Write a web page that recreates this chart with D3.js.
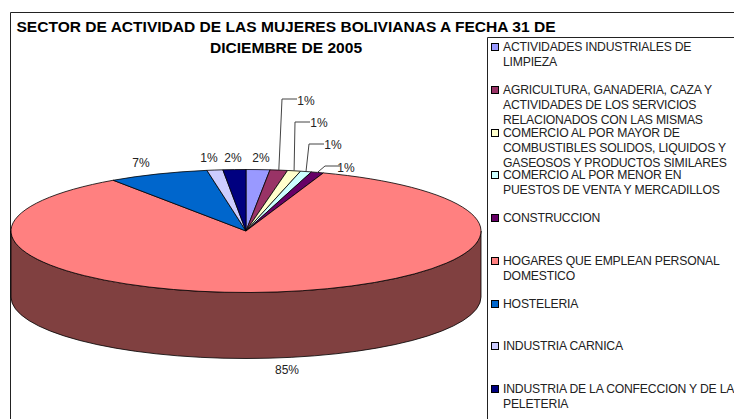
<!DOCTYPE html>
<html>
<head>
<meta charset="utf-8">
<script src="https://cdnjs.cloudflare.com/ajax/libs/d3/7.8.5/d3.min.js"></script>
<style>
    html, body { margin: 0; padding: 0; background: #fff; overflow: hidden; }
    text { font-family: "Liberation Sans", Arial, sans-serif; }
</style>
</head>
<body>
<div id="chart"></div>
<script>
// values
const sectors = [
    "ACTIVIDADES INDUSTRIALES DE LIMPIEZA",
    "AGRICULTURA, GANADERIA, CAZA Y ACTIVIDADES DE LOS SERVICIOS RELACIONADOS CON LAS MISMAS",
    "COMERCIO AL POR MAYOR DE COMBUSTIBLES SOLIDOS, LIQUIDOS Y GASEOSOS Y PRODUCTOS SIMILARES",
    "COMERCIO AL POR MENOR EN PUESTOS DE VENTA Y MERCADILLOS",
    "CONSTRUCCION",
    "HOGARES QUE EMPLEAN PERSONAL DOMESTICO",
    "HOSTELERIA",
    "INDUSTRIA CARNICA",
    "INDUSTRIA DE LA CONFECCION Y DE LA PELETERIA"
];
const shares = [1.63, 1.2, 0.9, 0.76, 0.85, 85.1, 6.9, 1.09, 1.57];
const shareLabels = ["2%", "1%", "1%", "1%", "1%", "85%", "7%", "1%", "2%"];
const sectorColors = ["#9999ff", "#993366", "#ffffcc", "#ccffff", "#660066", "#ff8080", "#0066cc", "#ccccff", "#000080"];
const legendLines = [
    ["ACTIVIDADES INDUSTRIALES DE", "LIMPIEZA"],
    ["AGRICULTURA, GANADERIA, CAZA Y", "ACTIVIDADES DE LOS SERVICIOS", "RELACIONADOS CON LAS MISMAS"],
    ["COMERCIO AL POR MAYOR DE", "COMBUSTIBLES SOLIDOS, LIQUIDOS Y", "GASEOSOS Y PRODUCTOS SIMILARES"],
    ["COMERCIO AL POR MENOR EN", "PUESTOS DE VENTA Y MERCADILLOS"],
    ["CONSTRUCCION"],
    ["HOGARES QUE EMPLEAN PERSONAL", "DOMESTICO"],
    ["HOSTELERIA"],
    ["INDUSTRIA CARNICA"],
    ["INDUSTRIA DE LA CONFECCION Y DE LA", "PELETERIA"]
];

// layout
const width = 734, height = 419;
const cx = 246, cy = 231, rx = 235, ry = 61.5, depth = 66;
const legendTop = [47, 90, 133, 175, 218, 261, 304, 346, 389];
const labelPos = [[261, 158], [306, 101], [319, 123], [333, 145], [346, 168], [287, 370], [141, 163], [209, 158], [233, 158]];
const elbows = [null, [282, 99], [295, 122], [309, 144], [325, 166], null, null, null, null];

const svg = d3.select("#chart").append("svg")
    .attr("width", width)
    .attr("height", height)
    .style("display", "block");

// chart frame, runs off the right and bottom of the picture
svg.append("path")
    .attr("d", `M10.5,${height}V12.5H${width}`)
    .attr("fill", "none")
    .attr("stroke", "#222");

// title
svg.append("g").selectAll("text")
    .data(["SECTOR DE ACTIVIDAD DE LAS MUJERES BOLIVIANAS A FECHA 31 DE", "DICIEMBRE DE 2005"])
    .enter().append("text")
    .attr("x", 286)
    .attr("y", (d, i) => 32 + i * 20.5)
    .attr("text-anchor", "middle")
    .style("font-size", "15.55px")
    .style("font-weight", "bold")
    .text(d => d);

// pie, angle 0 at twelve o'clock and clockwise
const arcs = d3.pie().value(d => d).sort(null)(shares);
const px = a => cx + rx * Math.sin(a);
const py = (a, r = 1) => cy - ry * r * Math.cos(a);

// wall, only the front half of the pie shows
const wall = svg.append("g");
arcs.forEach((d, i) => {
    const a0 = Math.max(d.startAngle, Math.PI / 2);
    const a1 = Math.min(d.endAngle, Math.PI * 3 / 2);
    if (a1 <= a0) return;
    const c = d3.color(sectorColors[i]);
    wall.append("path")
        .attr("d", `M${px(a0)},${py(a0)}A${rx},${ry} 0 0 1 ${px(a1)},${py(a1)}` +
            `V${py(a1) + depth}A${rx},${ry} 0 0 0 ${px(a0)},${py(a0) + depth}Z`)
        .attr("fill", d3.rgb(c.r / 2, c.g / 2, c.b / 2))
        .attr("stroke", "#000")
        .attr("stroke-width", 0.8);
});

// top of the pie, flattened circle
const arcGenerator = d3.arc().innerRadius(0).outerRadius(rx);
svg.append("g")
    .attr("transform", `translate(${cx},${cy}) scale(1,${ry / rx})`)
    .selectAll("path")
    .data(arcs)
    .enter().append("path")
    .attr("d", arcGenerator)
    .attr("fill", (d, i) => sectorColors[i])
    .attr("stroke", "#000")
    .attr("stroke-width", 0.8)
    .attr("vector-effect", "non-scaling-stroke");

// leader lines
svg.append("g").selectAll("path")
    .data(arcs.filter((d, i) => elbows[i]))
    .enter().append("path")
    .attr("d", d => {
        const e = elbows[d.index];
        const mid = (d.startAngle + d.endAngle) / 2;
        return `M${px(mid)},${py(mid)}L${e[0]},${e[1]}H${e[0] + 15}`;
    })
    .attr("fill", "none")
    .attr("stroke", "#444")
    .attr("stroke-width", 1);

// percent labels
svg.append("g").selectAll("text")
    .data(shareLabels)
    .enter().append("text")
    .attr("x", (d, i) => labelPos[i][0])
    .attr("y", (d, i) => labelPos[i][1])
    .attr("text-anchor", "middle")
    .attr("dy", "0.35em")
    .style("font-size", "12px")
    .style("fill", "#222")
    .text(d => d);

// legend box
svg.append("path")
    .attr("d", `M487.5,${height}V37.5H${width}`)
    .attr("fill", "none")
    .attr("stroke", "#222");

const legend = svg.append("g").selectAll("g")
    .data(sectors)
    .enter().append("g")
    .attr("transform", (d, i) => `translate(491,${legendTop[i]})`);

legend.append("rect")
    .attr("x", 0.5)
    .attr("y", -3.5)
    .attr("width", 7)
    .attr("height", 7)
    .attr("fill", (d, i) => sectorColors[i])
    .attr("stroke", "#000");

legend.each(function(d, i) {
    d3.select(this).selectAll("text")
        .data(legendLines[i])
        .enter().append("text")
        .attr("x", 12)
        .attr("y", (t, j) => j * 14.7)
        .attr("dy", "0.35em")
        .style("font-size", "12.2px")
        .style("letter-spacing", "-0.2px")
        .style("fill", "#222")
        .text(t => t);
});
</script>
</body>
</html>
